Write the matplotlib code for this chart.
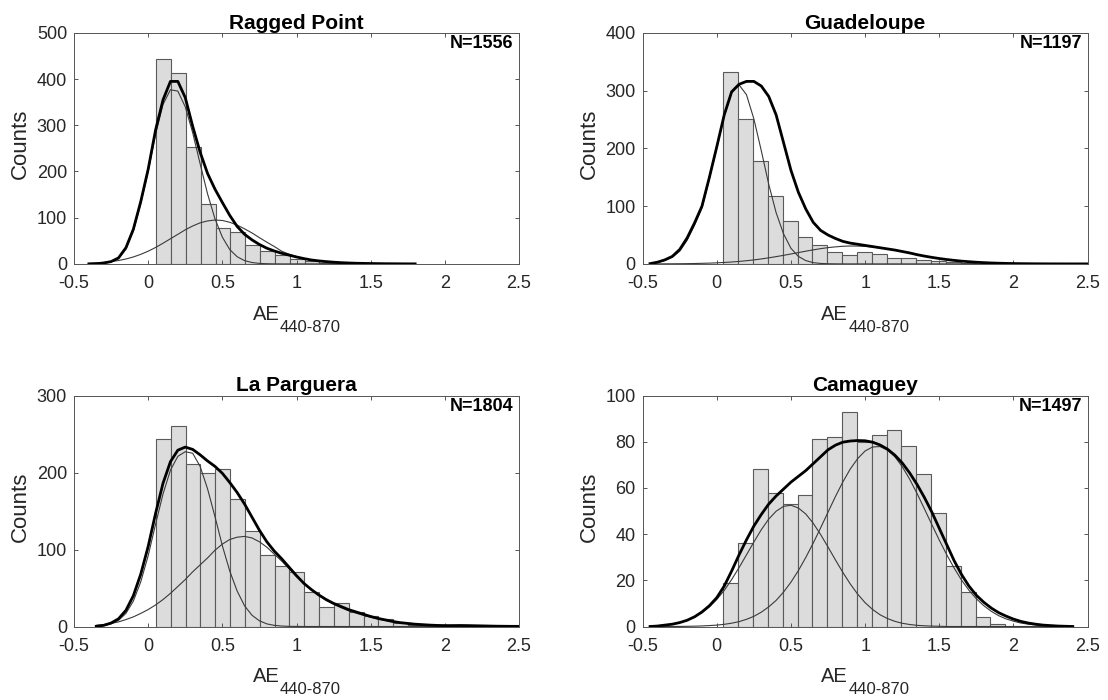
# histograms of AE(440-870) at four sites with fitted curves
import numpy as np
import matplotlib
matplotlib.use('Agg')
import matplotlib.pyplot as plt

plt.rcParams['font.family'] = ['Liberation Sans', 'DejaVu Sans']

# ---- data ----
titles = ['Ragged Point', 'Guadeloupe', 'La Parguera', 'Camaguey']
n_obs = [1556, 1197, 1804, 1497]
ymax = [500, 400, 300, 100]
ystep = [100, 100, 100, 20]
xticks = [-0.5, 0, 0.5, 1, 1.5, 2, 2.5]
xticklabels = ['-0.5', '0', '0.5', '1', '1.5', '2', '2.5']

# histogram bins: left edge of first bin, bin width 0.1
bin_start = [0.055, 0.045, 0.052, 0.045]
bin_width = 0.1
counts_rp = [443, 414, 252, 129, 77, 70, 40, 27, 19, 11, 6, 3, 2, 1]
counts_gd = [333, 251, 178, 117, 75, 46, 32, 21, 16, 21, 18, 11, 10, 7, 5, 3, 1]
counts_lp = [243, 260, 211, 200, 204, 165, 124, 93, 79, 71, 45, 25, 31, 19, 14, 10, 5, 2]
counts_cm = [19, 36, 68, 58, 53, 57, 81, 82, 93, 80, 83, 85, 78, 66, 49, 26, 15, 4, 1]

# curves, sampled every 0.05 in AE
x_rp = np.linspace(-0.40, 1.80, 45)
rp_fit = [0, 0.5, 2, 5, 13, 35, 75, 135,
          205, 290, 355, 395, 395, 360, 298, 242, 196, 162, 133, 105, 81, 64, 52, 42, 34, 28, 23, 19,
          15, 11.5, 8.5, 6.5, 5, 3.7, 2.7, 2, 1.4, 1.1, 0.8, 0.6, 0.4, 0.3, 0.2, 0.1, 0.1]
rp_mode1 = [0.2, 0.5, 1.2, 4.5, 11.5, 32, 71, 130,
            200, 281, 345, 377, 374, 340, 284, 217, 152, 98, 58, 31, 15.5, 7, 3, 1.1, 0.4, 0.1, 0, 0,
            0, 0, 0, 0, 0, 0, 0, 0, 0, 0, 0, 0, 0, 0, 0, 0, 0]
rp_mode2 = [1.2, 2.0, 3.2, 4.9, 7.3, 10.6, 15, 20.7,
            27.5, 35.6, 44.7, 54.4, 64, 73.8, 82, 88.9, 93, 95, 94, 90.1, 84, 75.9, 67, 56.8, 47, 37.7, 27.5, 21,
            15.5, 11.3, 8, 5.4, 3.5, 2.2, 1.4, 0.9, 0.5, 0.3, 0.2, 0.1, 0.05, 0, 0, 0, 0]

x_gd = np.linspace(-0.45, 2.50, 60)
gd_fit = [0.5, 3, 7, 13, 25, 45, 71, 100, 150,
          203, 258, 298, 311, 316, 316, 308, 290, 258, 210, 162, 124, 95, 72, 58, 50, 44, 39, 36, 34,
          32, 30, 28, 26, 24, 21.5, 19, 16, 13.5, 11.3, 9.3, 7.6, 6.1, 4.8, 3.8, 2.9, 2.2, 1.6, 1.2, 0.85,
          0.6, 0.42, 0.3, 0.2, 0.13, 0.08, 0.05, 0.03, 0.02, 0.01, 0]
gd_mode1 = [0.4, 2.5, 6, 11.5, 22, 41, 67, 97, 147,
            201, 256, 296, 310, 293, 251, 196, 138, 88.6, 52, 27, 13, 5.7, 2.2, 0.8, 0.3, 0.1, 0, 0, 0,
            0, 0, 0, 0, 0, 0, 0, 0, 0, 0, 0, 0, 0, 0, 0, 0, 0, 0, 0, 0,
            0, 0, 0, 0, 0, 0, 0, 0, 0, 0, 0]
gd_mode2 = [0.06, 0.09, 0.14, 0.2, 0.32, 0.47, 0.68, 1.0, 1.35,
            1.85, 2.5, 3.3, 4.3, 5.5, 6.9, 8.6, 10.5, 12.6, 14.8, 17.2, 19.6, 22, 24.3, 26.4, 28.2, 29.5, 30.5, 31, 30.9,
            30.3, 29.3, 27.8, 26, 23.9, 21.6, 19.2, 16.3, 13.8, 11.5, 9.5, 7.8, 6.2, 4.9, 3.8, 2.9, 2.2, 1.6, 1.2, 0.85,
            0.6, 0.42, 0.3, 0.2, 0.13, 0.08, 0.05, 0.03, 0.02, 0.01, 0]

x_lp = np.linspace(-0.35, 2.50, 58)
lp_fit = [0.3, 1.5, 4.5, 10, 21, 40, 68,
          104, 147, 186, 214, 229, 233, 230, 223, 215, 208, 199, 187, 174, 159, 142, 125, 110, 98, 88, 77,
          66, 56, 48, 41, 35, 30, 26, 22, 19, 16, 13, 10.5, 8.5, 6.5, 5, 4, 3, 2.4, 1.8, 1.4,
          1.2, 1.2, 1.3, 1.2, 1.0, 0.8, 0.6, 0.4, 0.3, 0.2, 0.2]
lp_mode1 = [0.3, 1.2, 3.5, 8, 17, 33, 58,
            92, 133, 172, 203, 221, 227, 225, 208, 179, 143, 105, 72, 46, 26.8, 14.6, 7.4, 3.4, 1.5, 0.6, 0.2,
            0.1, 0, 0, 0, 0, 0, 0, 0, 0, 0, 0, 0, 0, 0, 0, 0, 0, 0, 0, 0,
            0, 0, 0, 0, 0, 0, 0, 0, 0, 0, 0]
lp_mode2 = [1.5, 2.5, 4, 6, 9, 12.5, 17,
            22, 28, 35, 43, 52, 61, 71, 80, 89, 99, 107, 113, 116, 117, 115, 110, 103, 94, 85, 75,
            65, 56, 48, 41, 34, 29, 24.5, 20.5, 17.5, 14.5, 12, 9.8, 7.8, 6, 4.6, 3.6, 2.8, 2.1, 1.6, 1.2,
            0.9, 0.7, 0.5, 0.4, 0.3, 0.2, 0.15, 0.1, 0.07, 0.05, 0.03]

x_cm = np.linspace(-0.45, 2.40, 58)
cm_fit = [0, 0.2, 0.6, 1.0, 1.7, 2.7, 4.2, 6.3, 9,
          12.5, 17.5, 24, 31, 37.5, 43.5, 48.5, 53, 56.5, 59.5, 62.5, 65, 67.5, 70.5, 73.5, 76.5, 78.5, 79.8, 80.3, 80.5,
          80.4, 79.8, 78.6, 76.8, 74.2, 70.8, 66.5, 61.5, 55.8, 49.5, 42.5, 35.5, 28.5, 22.5, 17.5, 13.5, 10.5, 8, 6, 4.5,
          3.2, 2.2, 1.5, 1.0, 0.6, 0.4, 0.2, 0.1, 0]
cm_mode1 = [0.2, 0.37, 0.64, 1.06, 1.7, 2.67, 4.06, 5.95, 8.5,
            11.7, 15.6, 20.3, 25.5, 31, 36.6, 41.9, 46.5, 49.9, 52, 52.5, 51.3, 48.7, 44.7, 39.8, 34.4, 28.8, 23.4, 18.4, 14,
            10.3, 7.4, 5.1, 3.45, 2.25, 1.4, 0.87, 0.5, 0.3, 0.17, 0.1, 0, 0, 0, 0, 0, 0, 0, 0, 0,
            0, 0, 0, 0, 0, 0, 0, 0, 0]
cm_mode2 = [0, 0, 0, 0.01, 0.03, 0.08, 0.14, 0.24, 0.4,
            0.6, 0.95, 1.43, 2.1, 3.1, 4.4, 6.2, 8.5, 11.3, 14.9, 19.2, 24.2, 29.9, 36.1, 42.7, 49.5, 56.3, 62.6, 68.2, 72.7,
            76, 77.7, 77.9, 76.4, 73.5, 69.2, 63.8, 57.6, 50.9, 44.1, 37.4, 31.1, 25.3, 20.1, 15.7, 12.0, 9.0, 6.6, 4.7, 3.3,
            2.3, 1.5, 1.0, 0.65, 0.4, 0.26, 0.16, 0.1, 0.05]

counts = [counts_rp, counts_gd, counts_lp, counts_cm]
xs = [x_rp, x_gd, x_lp, x_cm]
fits = [rp_fit, gd_fit, lp_fit, cm_fit]
mode1 = [rp_mode1, gd_mode1, lp_mode1, cm_mode1]
mode2 = [rp_mode2, gd_mode2, lp_mode2, cm_mode2]

# axes positions in figure fractions (left, bottom, width, height)
pos = [(0.0668, 0.623, 0.4016, 0.330),
       (0.5800, 0.623, 0.4016, 0.330),
       (0.0668, 0.105, 0.4016, 0.330),
       (0.5800, 0.105, 0.4016, 0.330)]

fig = plt.figure(figsize=(11.08, 7.0), dpi=100)

for i in range(4):
    ax = fig.add_axes(pos[i])
    edges = bin_start[i] + bin_width * np.arange(len(counts[i]))
    ax.bar(edges, counts[i], width=bin_width, align='edge', color='#dcdcdc',
           edgecolor='#5a5a5a', linewidth=0.8, zorder=1)
    ax.plot(xs[i], mode1[i], color='#3a3a3a', lw=0.8, zorder=2)
    ax.plot(xs[i], mode2[i], color='#3a3a3a', lw=0.8, zorder=2)
    ax.plot(xs[i], fits[i], color='black', lw=2.0, zorder=3)

    ax.set_xlim(-0.5, 2.5)
    ax.set_ylim(0, ymax[i])
    ax.set_xticks(xticks)
    ax.set_xticklabels(xticklabels)
    ax.set_yticks(np.arange(0, ymax[i] + 1, ystep[i]))
    ax.tick_params(direction='in', top=True, right=True, length=3, width=0.7,
                   color='#555555', labelcolor='#262626', labelsize=13)
    ax.tick_params(axis='x', pad=8)
    ax.tick_params(axis='y', pad=5)
    for s in ax.spines.values():
        s.set_color('#555555')
        s.set_linewidth(0.7)

    ax.set_title(titles[i], fontsize=15, fontweight='bold', pad=3)
    ax.text(0.987, 0.989, 'N=%d' % n_obs[i], transform=ax.transAxes,
            ha='right', va='top', fontsize=13, fontweight='bold')

    # x label: AE with subscript 440-870
    ax.annotate('AE', xy=(0.5, 0), xycoords='axes fraction', xytext=(-17, -56),
                textcoords='offset pixels', ha='right', va='baseline',
                fontsize=14.5, color='#262626')
    ax.annotate('440-870', xy=(0.5, 0), xycoords='axes fraction', xytext=(-17, -68),
                textcoords='offset pixels', ha='left', va='baseline',
                fontsize=12, color='#262626')
    ax.set_ylabel('Counts', fontsize=16, color='#262626')
    ax.yaxis.set_label_coords(-0.097, 0.52)

plt.savefig('out.png', dpi=100)
